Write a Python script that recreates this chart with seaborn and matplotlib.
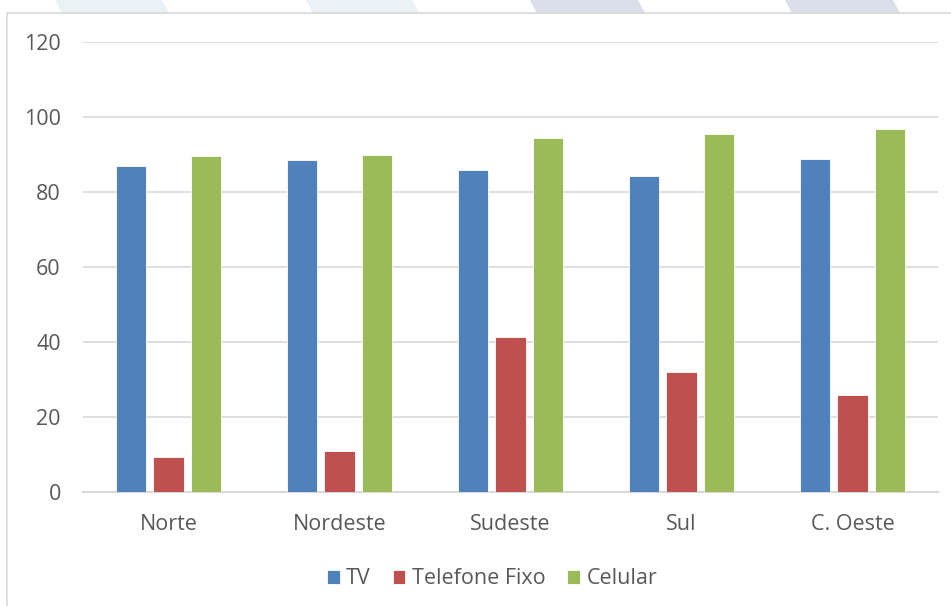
import pandas as pd
import numpy as np
import matplotlib.pyplot as plt
import seaborn as sns
from matplotlib.patches import Polygon
from matplotlib.lines import Line2D

regioes = ["Norte", "Nordeste", "Sudeste", "Sul", "C. Oeste"]
tv = [86.9, 88.5, 86.0, 84.3, 88.9]
telefone = [9.3, 10.9, 41.4, 31.9, 26.0]
celular = [89.5, 89.9, 94.5, 95.5, 96.9]
series = ["TV", "Telefone Fixo", "Celular"]
cores = ["#4f81bd", "#c0504d", "#9bbb59"]

df = pd.DataFrame({"regiao": regioes * 3,
                   "valor": tv + telefone + celular,
                   "serie": np.repeat(series, len(regioes))})

sns.set_style("white")
plt.rcParams['font.family'] = ['Open Sans', 'DejaVu Sans']

fig = plt.figure(figsize=(9.51, 6.06), dpi=100)
ax = fig.add_axes([83/951, 114/606, 855/951, 450/606])

sns.barplot(data=df, x="regiao", y="valor", hue="serie", hue_order=series,
            palette=cores, width=0.66, gap=0.2, saturation=1,
            edgecolor="white", linewidth=0.6, ax=ax, zorder=3)

ax.set_ylim(0, 120)
ax.set_yticks(range(0, 121, 20))
ax.yaxis.grid(True, color="#d9d9d9", linewidth=1.2, zorder=0)
ax.set_xlim(-0.5, len(regioes) - 0.5)
for s in ["top", "right", "left"]:
    ax.spines[s].set_visible(False)
ax.spines["bottom"].set_color("#d9d9d9")
ax.spines["bottom"].set_linewidth(1.5)
ax.tick_params(axis="y", length=0, pad=16, labelsize=15.5, labelcolor="#595959")
ax.tick_params(axis="x", length=0, pad=16, labelsize=15.5, labelcolor="#595959")
ax.set_xlabel("")
ax.set_ylabel("")

handles, labels = ax.get_legend_handles_labels()
ax.legend(handles, labels, loc="center", bbox_to_anchor=(492/951, 1 - 579/606),
          bbox_transform=fig.transFigure, ncol=3, frameon=False,
          handlelength=0.6, handleheight=0.6, handletextpad=0.3,
          columnspacing=1.0, fontsize=15.5, labelcolor="#595959")

# moldura e faixas decorativas do topo
fig.add_artist(Line2D([7/951, 7/951], [0, 1 - 13/606], transform=fig.transFigure,
                      color="#d9d9d9", linewidth=1.2))
fig.add_artist(Line2D([7/951, 1], [1 - 13/606, 1 - 13/606], transform=fig.transFigure,
                      color="#d9d9d9", linewidth=1.2))
faixas = [(55, 162, "#eaf2f5"), (306, 412, "#eaf2f5"),
          (530, 638, "#dcdeea"), (785, 893, "#dcdeea")]
for x0, x1, c in faixas:
    pts = [(x0, 0), (x1, 0), (x1 + 7, 13), (x0 + 7, 13)]
    pts = [(px / 951, 1 - py / 606) for px, py in pts]
    fig.add_artist(Polygon(pts, closed=True, transform=fig.transFigure,
                           facecolor=c, edgecolor="none"))

fig.savefig("out.png", dpi=100)
